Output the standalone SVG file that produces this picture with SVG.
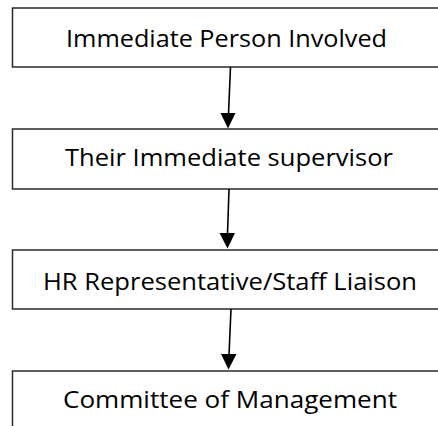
<svg xmlns="http://www.w3.org/2000/svg" width="438" height="426" viewBox="0 0 438 426">
<style>
.box{fill:#fff;stroke:#2a2a2a;stroke-width:1.5}
.lbl{font-family:"Open Sans","Liberation Sans",sans-serif;font-size:24px;fill:#000}
.conn{stroke:#000;stroke-width:1.6;fill:none}
.head{fill:#000}
</style>
<rect width="438" height="426" fill="#fff"/>
<g id="node1"><rect class="box" x="12.5" y="8" width="440" height="59"/><text class="lbl" x="66" y="47" textLength="321" lengthAdjust="spacingAndGlyphs">Immediate Person Involved</text></g>
<g id="node2"><rect class="box" x="12.5" y="129" width="440" height="60"/><text class="lbl" x="65" y="166" textLength="328" lengthAdjust="spacingAndGlyphs">Their Immediate supervisor</text></g>
<g id="node3"><rect class="box" x="12.5" y="250" width="440" height="59"/><text class="lbl" x="43" y="290" textLength="374" lengthAdjust="spacingAndGlyphs">HR Representative/Staff Liaison</text></g>
<g id="node4"><rect class="box" x="12.5" y="371" width="440" height="80"/><text class="lbl" x="63" y="408" textLength="334" lengthAdjust="spacingAndGlyphs">Committee of Management</text></g>
<g id="connectors">
<line class="conn" x1="230.5" y1="67" x2="228.5" y2="114"/><polygon class="head" points="220.5,113 235.5,113 228,128.5"/>
<line class="conn" x1="229" y1="189" x2="227.5" y2="234"/><polygon class="head" points="219.5,233 235,233 227.5,248.5"/>
<line class="conn" x1="231" y1="309" x2="229" y2="355"/><polygon class="head" points="221,354 236.5,354 228.5,369.5"/>
</g>
</svg>
